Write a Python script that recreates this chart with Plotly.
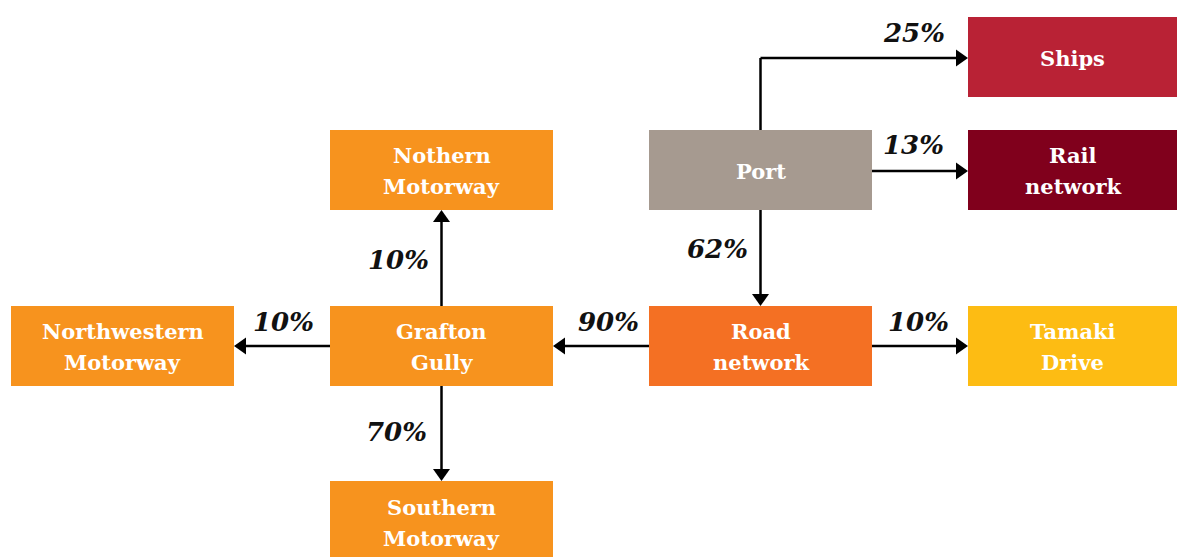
import plotly.graph_objects as go

# ---- data ----
node_names = ["Ships", "Rail<br>network", "Port", "Nothern<br>Motorway",
              "Northwestern<br>Motorway", "Grafton<br>Gully", "Road<br>network",
              "Tamaki<br>Drive", "Southern<br>Motorway"]
node_colors = ["#B92235", "#80001C", "#A69A90", "#F7931E", "#F7931E",
               "#F7931E", "#F47023", "#FDBC13", "#F7931E"]
flow_source = ["Port", "Port", "Port", "Road<br>network", "Road<br>network",
               "Grafton<br>Gully", "Grafton<br>Gully", "Grafton<br>Gully"]
flow_target = ["Ships", "Rail<br>network", "Road<br>network", "Grafton<br>Gully",
               "Tamaki<br>Drive", "Northwestern<br>Motorway", "Nothern<br>Motorway",
               "Southern<br>Motorway"]
flow_pct = [25, 13, 62, 90, 10, 10, 10, 70]

# ---- layout (pixel space) ----
box_pos = {  # x0, y0, x1, y1
    "Ships": (968, 17, 1177, 97),
    "Rail<br>network": (968, 130, 1177, 210),
    "Port": (649, 130, 872, 210),
    "Nothern<br>Motorway": (330, 130, 553, 210),
    "Northwestern<br>Motorway": (11, 306, 234, 386),
    "Grafton<br>Gully": (330, 306, 553, 386),
    "Road<br>network": (649, 306, 872, 386),
    "Tamaki<br>Drive": (968, 306, 1177, 386),
    "Southern<br>Motorway": (330, 481, 553, 563),
}
# label anchor (right edge x, center y) for each flow
label_pos = [(947, 33), (946, 145), (750, 249), (641, 322),
             (951, 322), (316, 322), (431, 260), (429, 432)]

W, H = 1177, 557
fig = go.Figure()
shapes, annotations = [], []

for name, col in zip(node_names, node_colors):
    x0, y0, x1, y1 = box_pos[name]
    shapes.append(dict(type="rect", xref="x", yref="y", x0=x0, y0=y0, x1=x1, y1=y1,
                       fillcolor=col, line=dict(width=0), layer="below"))
    lines = name.split("<br>")
    cy = (y0 + y1) / 2 + 1
    n = len(lines)
    for i, ln in enumerate(lines):
        annotations.append(dict(x=(x0 + x1) / 2, y=cy + (i - (n - 1) / 2) * 31,
                                xref="x", yref="y", text=f"<b>{ln}</b>", showarrow=False,
                                font=dict(family="DejaVu Serif", size=21, color="white"),
                                align="center"))

AH_L, AH_W = 12, 8.5  # arrowhead length, half-width


def arrow_head(x, y, dx, dy):
    bx, by = x - dx * AH_L, y - dy * AH_L
    px, py = -dy * AH_W, dx * AH_W
    return dict(type="path", xref="x", yref="y",
                path=f"M {x},{y} L {bx + px},{by + py} L {bx - px},{by - py} Z",
                fillcolor="black", line=dict(width=0))


def seg(xa, ya, xb, yb):
    return dict(type="line", xref="x", yref="y", x0=xa, y0=ya, x1=xb, y1=yb,
                line=dict(color="black", width=2.5))


for src, tgt, pct, (lx, ly) in zip(flow_source, flow_target, flow_pct, label_pos):
    sx0, sy0, sx1, sy1 = box_pos[src]
    tx0, ty0, tx1, ty1 = box_pos[tgt]
    scx, scy = (sx0 + sx1) / 2, (sy0 + sy1) / 2
    if tgt == "Ships":
        ymid = (ty0 + ty1) / 2 + 1
        shapes.append(seg(scx, sy0, scx, ymid))
        shapes.append(seg(scx, ymid, tx0 - AH_L + 1, ymid))
        shapes.append(arrow_head(tx0, ymid, 1, 0))
    elif ty1 <= sy0:  # up
        shapes.append(seg(scx, sy0, scx, ty1 + AH_L - 1))
        shapes.append(arrow_head(scx, ty1, 0, -1))
    elif ty0 >= sy1:  # down
        shapes.append(seg(scx, sy1, scx, ty0 - AH_L + 1))
        shapes.append(arrow_head(scx, ty0, 0, 1))
    elif tx0 >= sx1:  # right
        y = scy + (1 if src == "Port" else 0)
        shapes.append(seg(sx1, y, tx0 - AH_L + 1, y))
        shapes.append(arrow_head(tx0, y, 1, 0))
    else:  # left
        shapes.append(seg(sx0, scy, tx1 + AH_L - 1, scy))
        shapes.append(arrow_head(tx1, scy, -1, 0))
    annotations.append(dict(x=lx, y=ly, xref="x", yref="y", text=f"<b><i>{pct}%</i></b>",
                            showarrow=False, xanchor="right", yanchor="middle",
                            font=dict(family="DejaVu Serif", size=26, color="#111111")))

fig.add_trace(go.Scatter(x=[0, W], y=[0, H], mode="markers",
                         marker=dict(opacity=0), hoverinfo="skip", showlegend=False))
fig.update_layout(
    width=W, height=H, margin=dict(l=0, r=0, t=0, b=0),
    paper_bgcolor="white", plot_bgcolor="white",
    xaxis=dict(range=[0, W], visible=False, fixedrange=True),
    yaxis=dict(range=[H, 0], visible=False, fixedrange=True),
    shapes=shapes, annotations=annotations, showlegend=False,
)
fig.write_html("out.html", config={"displayModeBar": False},
               post_script="document.body.style.margin='0';"
                           "document.body.style.overflow='hidden';")
